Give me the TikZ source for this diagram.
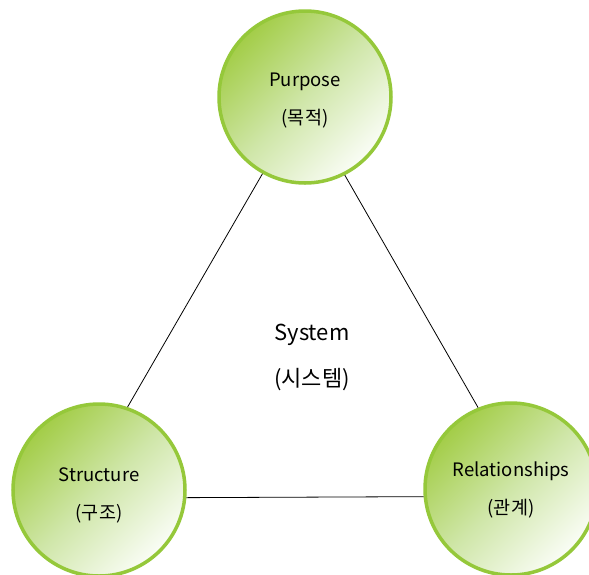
\documentclass[tikz,border=0pt]{standalone}
\usepackage{fontspec}
\setmainfont{Noto Sans CJK KR}
\definecolor{ringgreen}{HTML}{95C83A}
\definecolor{fillgreen}{HTML}{A3CD48}
\definecolor{fillmid}{HTML}{CFE6A8}
\definecolor{fillwhite}{HTML}{FAFDF6}
\begin{document}
\begin{tikzpicture}[x=1pt,y=-1pt,
  elem/.style={circle, draw=ringgreen, line width=3.5pt, minimum size=172pt, inner sep=0pt,
    top color=fillgreen, bottom color=fillwhite, middle color=fillmid, shading angle=45},
  elemtext/.style={align=center, inner sep=0pt, font=\fontsize{18.5}{38}\selectfont},
  link/.style={draw=black, line width=0.8pt},
  sys/.style={align=center, font=\fontsize{22}{46}\selectfont}]
\useasboundingbox (0,0) rectangle (589,574);
\clip (0,0) rectangle (589,574);
\fill[white] (0,0) rectangle (589,574);
\node[elem, label={[elemtext, yshift=-4pt]center:Purpose\\(목적)}] (purpose) at (305,97) {};
\node[elem, label={[elemtext, yshift=-5pt]center:Structure\\(구조)}] (structure) at (99,490) {};
\node[elem, label={[elemtext, yshift=-1pt]center:Relationships\\(관계)}] (relation) at (511,489) {};
\node[sys] (system) at (312,357) {System\\(시스템)};
\draw[link] (purpose.241) -- (structure.71);
\draw[link] (purpose.297) -- (relation.112);
\draw[link] (structure.-5) -- (relation.185);
\end{tikzpicture}
\end{document}
